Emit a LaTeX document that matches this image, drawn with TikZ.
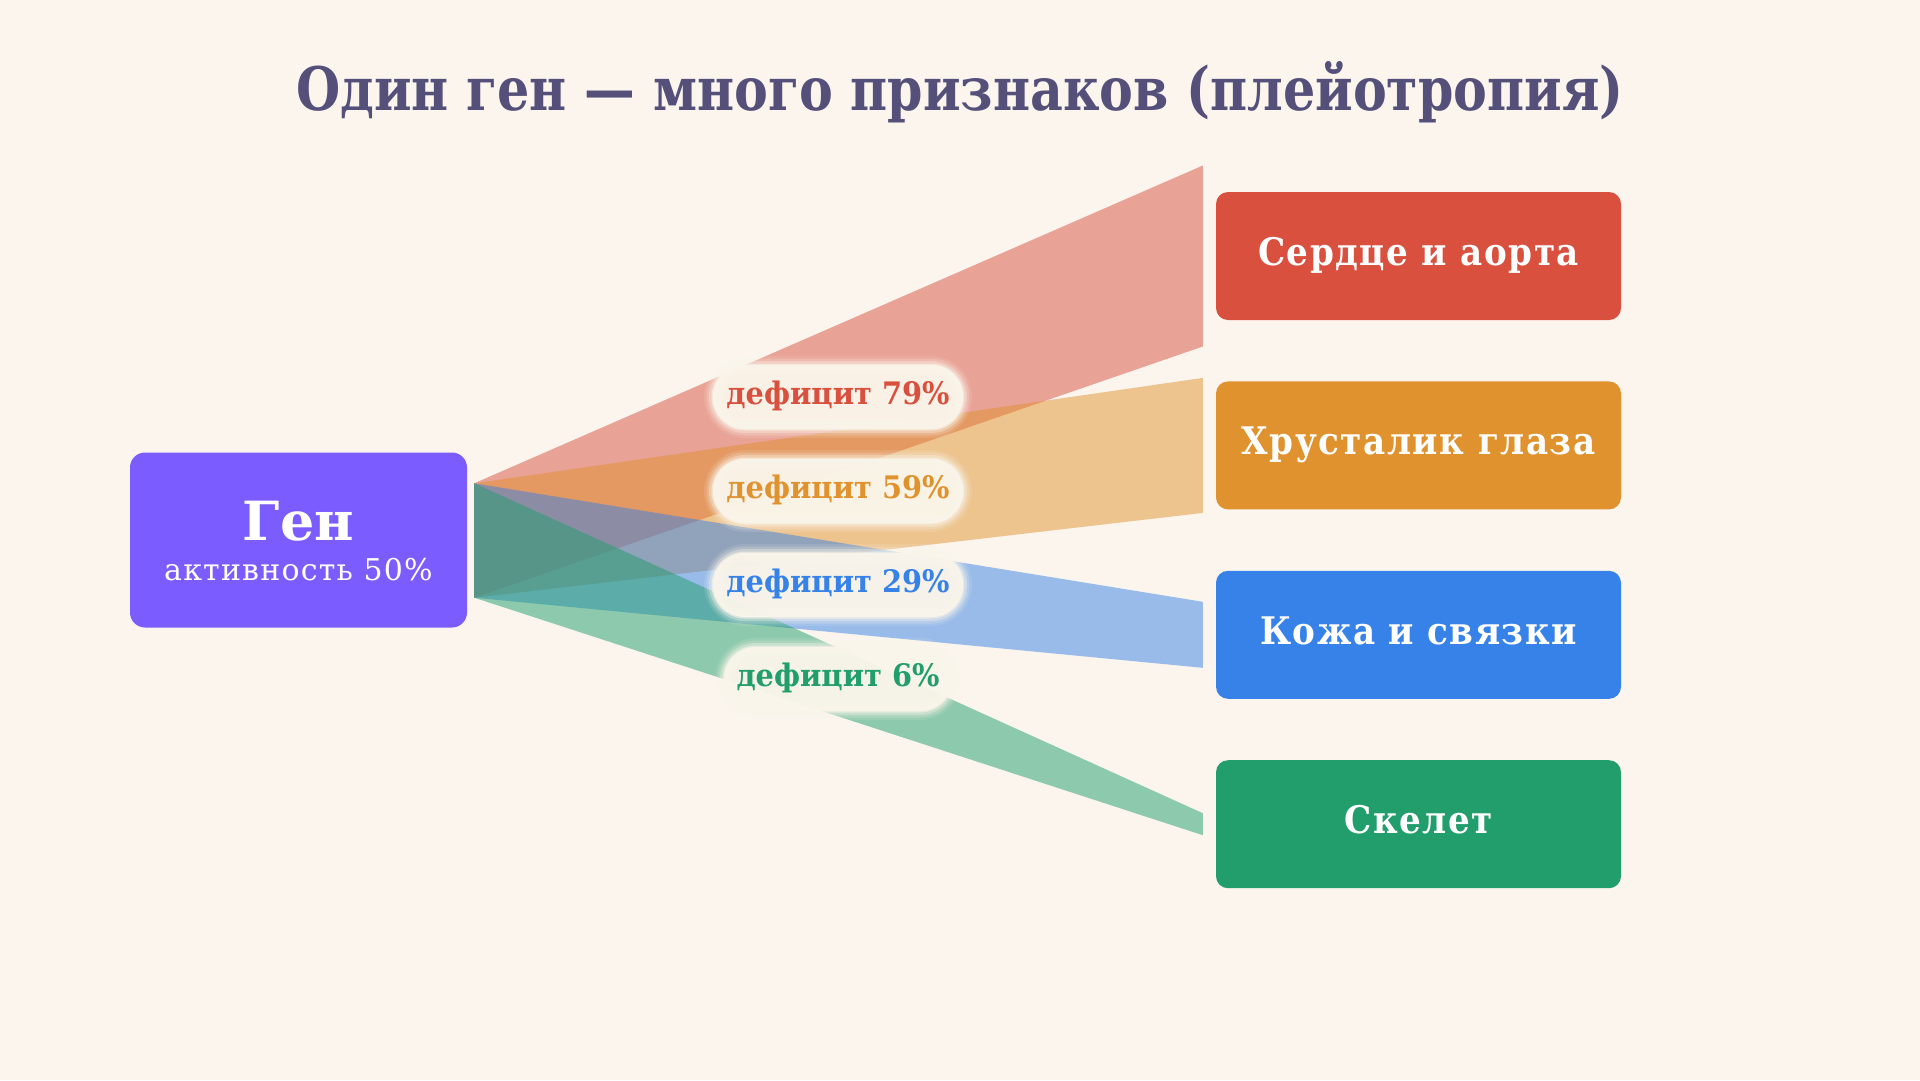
\documentclass[tikz,border=0pt]{standalone}
\usepackage{fontspec}
\setmainfont{DejaVu Serif}
\newfontfamily\titlefont{DejaVu Serif}[FakeStretch=0.845]
\newfontfamily\traitfont{DejaVu Serif}[FakeStretch=0.9, LetterSpace=4]
\newfontfamily\pillfont{DejaVu Serif}[FakeStretch=0.93]
\newfontfamily\spacedfont{DejaVu Serif}[LetterSpace=4]
\usetikzlibrary{positioning,calc}
\definecolor{bgcream}{HTML}{FBF5EE}
\definecolor{pillcream}{HTML}{FAF5EA}
\definecolor{titleink}{HTML}{55507A}
\definecolor{genviolet}{HTML}{7B5CFF}
\definecolor{heartred}{HTML}{D9503F}
\definecolor{lensorange}{HTML}{E0922F}
\definecolor{skinblue}{HTML}{3682E8}
\definecolor{skelgreen}{HTML}{219E6B}
\tikzset{
        genbox/.style = {rectangle, rounded corners=15pt, fill=genviolet,
            inner sep=0pt, minimum width=337pt, minimum height=175pt},
        gentext/.style = {anchor=base, text=white, inner sep=0pt},
        traitbox/.style = {rectangle, rounded corners=12pt, fill=#1,
            text=white, inner sep=0pt, minimum width=405pt,
            minimum height=128pt, text height=28pt, text depth=9pt,
            font=\traitfont\bfseries\fontsize{38}{44}\selectfont},
        ribbon/.style = {fill=#1, fill opacity=0.5},
        pill/.style = {rectangle, rounded corners=32pt, inner sep=0pt,
            minimum width=250pt, minimum height=64pt, text=#1,
            fill=pillcream, fill opacity=0.96, text opacity=1,
            text height=22pt, text depth=7pt,
            font=\pillfont\bfseries\fontsize{31}{36}\selectfont,
            preaction={draw=pillcream, draw opacity=0.12, line width=18pt},
            preaction={draw=pillcream, draw opacity=0.2, line width=13pt},
            preaction={draw=pillcream, draw opacity=0.35, line width=8pt},
            preaction={draw=pillcream, draw opacity=0.6, line width=3pt}}
    }
\begin{document}
\begin{tikzpicture}[x=1pt, y=-1pt]
    \useasboundingbox (0,0) rectangle (1920,1080);
    \fill[bgcream] (0,0) rectangle (1920,1080);
    % title
    \node[anchor=base, text=titleink, font=\titlefont\bfseries\fontsize{60}{72}\selectfont]
        (title) at (960,110) {Один ген — много признаков (плейотропия)};
    % gene
    \node[genbox] (gen) at (298.5,540) {};
    \node[gentext, font=\bfseries\fontsize{54}{60}\selectfont]
        (genname) at (298.5,540) {Ген};
    \node[gentext, font=\spacedfont\fontsize{30}{36}\selectfont]
        (genact) at (298.5,580) {активность 50\%};
    % traits
    \node[traitbox=heartred] (heart) at (1418.5,256) {Сердце и аорта};
    \node[traitbox=lensorange, below=61pt of heart] (lens) {Хрусталик глаза};
    \node[traitbox=skinblue, below=61pt of lens] (skin) {Кожа и связки};
    \node[traitbox=skelgreen, below=61pt of skin] (skel) {Скелет};
    % ribbons
    \coordinate (src1) at ($(gen.north east)+(7,31)$);
    \coordinate (src2) at ($(gen.south east)+(7,-30)$);
    \fill[ribbon=heartred] (src1) -- ($(heart.west)+(-13,-90.5)$)
        -- ($(heart.west)+(-13,90.5)$) -- (src2) -- cycle;
    \fill[ribbon=lensorange] (src1) -- ($(lens.west)+(-13,-67.5)$)
        -- ($(lens.west)+(-13,67.5)$) -- (src2) -- cycle;
    \fill[ribbon=skinblue] (src1) -- ($(skin.west)+(-13,-33)$)
        -- ($(skin.west)+(-13,33)$) -- (src2) -- cycle;
    \fill[ribbon=skelgreen] (src1) -- ($(skel.west)+(-13,-11)$)
        -- ($(skel.west)+(-13,11)$) -- (src2) -- cycle;
    % labels
    \node[pill=heartred] (d79) at (838,397) {дефицит 79\%};
    \node[pill=lensorange] (d59) at (838,491) {дефицит 59\%};
    \node[pill=skinblue] (d29) at (838,585) {дефицит 29\%};
    \node[pill=skelgreen, minimum width=228pt] (d6) at (838,679) {дефицит 6\%};
\end{tikzpicture}
\end{document}
